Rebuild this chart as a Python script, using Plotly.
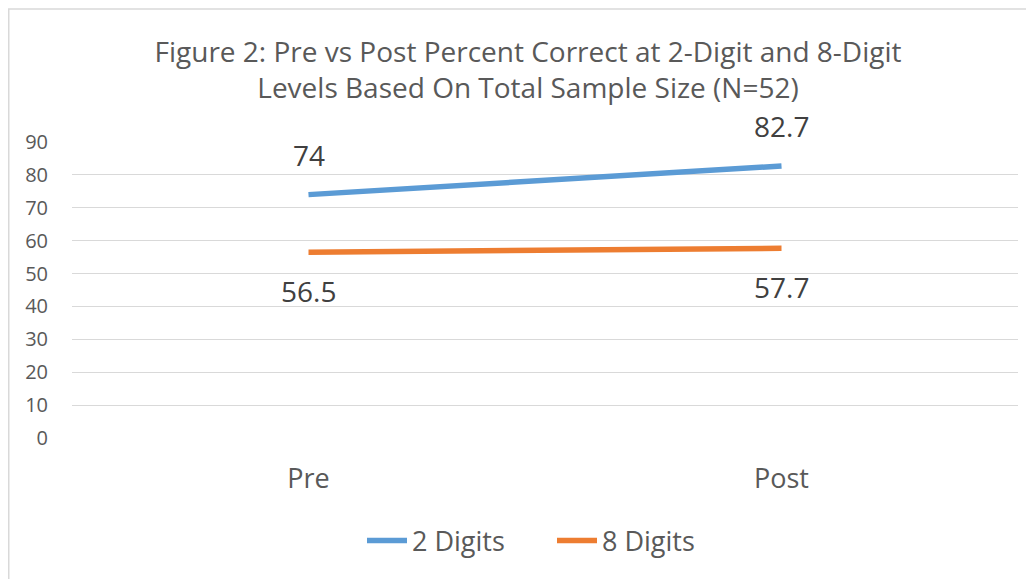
import plotly.graph_objects as go

categories = ["Pre", "Post"]
two_digits = [74, 82.7]
eight_digits = [56.5, 57.7]
series_names = ["2 Digits", "8 Digits"]
y_ticks = [0, 10, 20, 30, 40, 50, 60, 70, 80, 90]
title_lines = ["Figure 2: Pre vs Post Percent Correct at 2-Digit and 8-Digit",
               "Levels Based On Total Sample Size (N=52)"]

BLUE = "#5B9BD5"
ORANGE = "#ED7D31"
FONT = "Open Sans"

# the page body adds an 8px margin, so the figure is 8px smaller than the window
W, H = 1026, 571
L, R, T, B = 64, 16, 134, 141

fig = go.Figure()
fig.add_trace(go.Scatter(x=categories, y=two_digits, mode="lines", name=series_names[0],
                         line=dict(color=BLUE, width=5.5)))
fig.add_trace(go.Scatter(x=categories, y=eight_digits, mode="lines", name=series_names[1],
                         line=dict(color=ORANGE, width=5.5)))

anns = []
for c, v in zip(categories, two_digits):
    anns.append(dict(x=c, y=v, xref="x", yref="y", text=f"{v:g}", showarrow=False,
                     yshift=40, font=dict(family=FONT, size=28, color="#404040")))
for c, v in zip(categories, eight_digits):
    anns.append(dict(x=c, y=v, xref="x", yref="y", text=f"{v:g}", showarrow=False,
                     yshift=-39, font=dict(family=FONT, size=28, color="#404040")))

pw = W - L - R
ph = H - T - B
fig.update_layout(
    width=W, height=H,
    margin=dict(l=L, r=R, t=T, b=B, pad=0),
    paper_bgcolor="white", plot_bgcolor="white",
    font=dict(family=FONT, color="#595959"),
    title=dict(text="<br>".join(title_lines),
               x=520 / W, xanchor="center", y=1 - 54 / H, yanchor="middle", yref="container",
               font=dict(family=FONT, size=28, color="#595959")),
    xaxis=dict(range=[-0.5, 1.5], showgrid=False, zeroline=False, showline=False,
               ticks="", tickfont=dict(size=27, color="#595959"), ticklabelstandoff=22),
    yaxis=dict(range=[0, 90], tickvals=y_ticks, showgrid=True, gridcolor="#D9D9D9", gridwidth=1,
               zeroline=False, showline=False, ticks="",
               tickfont=dict(size=20, color="#595959"), ticklabelstandoff=23),
    legend=dict(orientation="h", x=544 / W, xanchor="center", xref="container",
                y=1 - 533 / H, yanchor="middle", yref="container",
                font=dict(size=27, color="#595959"), itemwidth=40,
                entrywidth=135),
    annotations=anns,
    shapes=[dict(type="rect", xref="paper", yref="paper",
                 x0=(0.75 - L) / pw, x1=(W + 20 - L) / pw,
                 y0=(H - B - (H + 20)) / ph, y1=(H - B - 1) / ph,
                 line=dict(color="#D9D9D9", width=1.5), fillcolor="rgba(0,0,0,0)", layer="below")],
    showlegend=True,
)

fig.write_html("out.html")
